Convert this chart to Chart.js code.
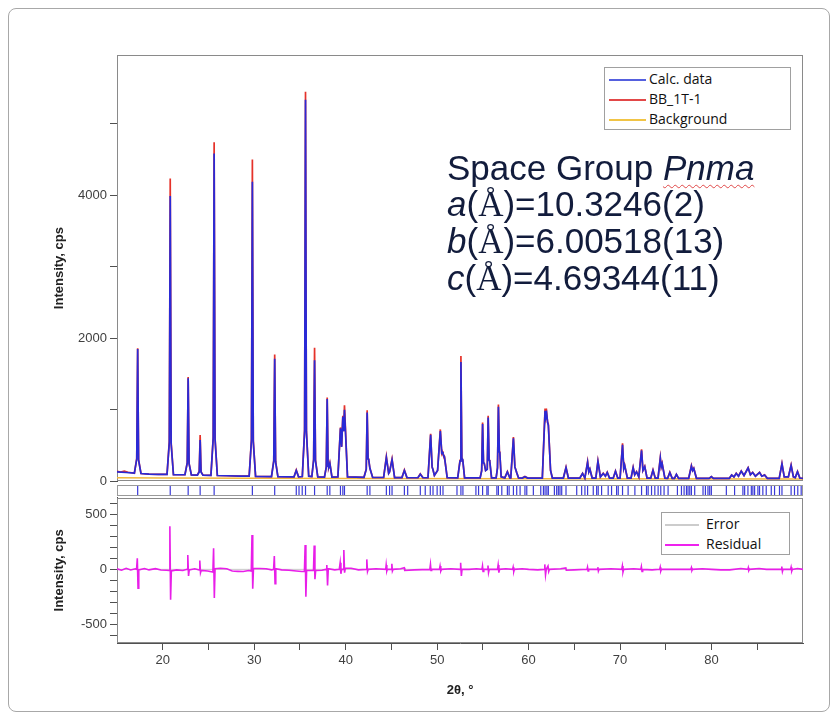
<!DOCTYPE html>
<html>
<head>
<meta charset="utf-8">
<script src="https://cdn.jsdelivr.net/npm/chart.js@4.4.1/dist/chart.umd.min.js"></script>
<style>
  body { margin: 0; width: 838px; height: 721px; background: #fff; overflow: hidden; position: relative; font-family: "Liberation Sans", Arial, sans-serif; }
  .frame { position: absolute; left: 8px; top: 8px; width: 820px; height: 702px; border: 1px solid #a8a8a8; border-radius: 8px; }
  canvas { position: absolute; left: 0; }
  #top { top: 40px; }
  #strip { top: 480px; }
  #bottom { top: 487px; }
  .legend { position: absolute; background: #fff; border: 1px solid #a0a0a0; font-family: "Open Sans", "Noto Sans", sans-serif; font-size: 14px; color: #111; }
  .legend .row { position: relative; height: 20px; line-height: 20px; }
  .legend .row i { position: absolute; top: 10px; height: 1.6px; }
  .legend .row span { position: absolute; white-space: nowrap; }
  .note { position: absolute; left: 447px; top: 150px; font-size: 35px; line-height: 36px; color: #121c3c; white-space: nowrap; }
  .note .aa { font-family: "Liberation Serif", serif; }
  .note .sq { text-decoration: underline wavy #e04848; text-decoration-thickness: 1px; text-underline-offset: 4px; }
</style>
</head>
<body>
<div class="frame"></div>
<canvas id="top" width="838" height="452"></canvas>
<canvas id="strip" width="838" height="22"></canvas>
<canvas id="bottom" width="838" height="215"></canvas>

<div class="legend" style="left:604px; top:67px; width:185px; height:60px; padding-top:1px;">
  <div class="row"><i style="left:4px; width:37px; background:#5560de;"></i><span style="left:44px;">Calc. data</span></div>
  <div class="row"><i style="left:4px; width:37px; background:#e24848;"></i><span style="left:44px;">BB_1T-1</span></div>
  <div class="row"><i style="left:4px; width:37px; background:#f1c445;"></i><span style="left:44px;">Background</span></div>
</div>
<div class="legend" style="left:661px; top:512px; width:127px; height:40px; padding-top:1px;">
  <div class="row"><i style="left:3px; width:34px; height:2.2px; background:#cccccc;"></i><span style="left:44px;">Error</span></div>
  <div class="row"><i style="left:3px; width:34px; background:#ee22ee;"></i><span style="left:44px;">Residual</span></div>
</div>

<div class="note">
  <div>Space Group <i class="sq">Pnma</i></div>
  <div><i>a</i>(<span class="aa">Å</span>)=10.3246(2)</div>
  <div><i>b</i>(<span class="aa">Å</span>)=6.00518(13)</div>
  <div><i>c</i>(<span class="aa">Å</span>)=4.69344(11)</div>
</div>

<script>
const xMin = 15;
const xMax = 90;
const xTicks = [20, 25, 30, 35, 40, 45, 50, 55, 60, 65, 70, 75, 80, 85];
const yTopTicks = [0, 1000, 2000, 3000, 4000, 5000];
const yResTicks = [-600, -500, -400, -300, -200, -100, 0, 100, 200, 300, 400, 500, 600];

// 2θ, intensity (cps)
const observed = [
  [15.0,138],[15.4,128],[15.8,140],[16.2,125],[16.6,118],[16.9,112],[17.16,320],[17.26,1860],[17.36,300],[17.62,108],
  [18.5,100],[19.5,96],[20.47,95],[20.72,560],[20.82,4234],[20.92,540],[21.17,92],
  [22.43,90],[22.68,260],[22.78,1458],[22.88,250],[23.13,88],[23.79,86],[23.99,140],[24.09,645],[24.19,135],[24.4,84],
  [25.27,82],[25.52,620],[25.62,4740],[25.72,600],[25.97,80],[27.0,76],[28.5,72],
  [29.45,70],[29.70,590],[29.80,4499],[29.90,570],[30.15,68],
  [31.89,65],[32.14,290],[32.24,1773],[32.34,280],[32.59,64],
  [34.35,60],[34.60,158],[34.85,62],[35.26,65],[35.51,720],[35.61,5446],[35.71,700],[35.96,70],
  [36.3,66],[36.50,310],[36.60,1866],[36.70,300],[36.95,60],
  [37.68,56],[37.88,200],[37.98,1170],[38.08,210],[38.15,200],[38.27,260],[38.5,58],
  [39.15,60],[39.43,752],[39.56,480],[39.69,915],[39.78,700],[39.87,1063],[40.2,60],
  [42.0,54],[42.25,170],[42.35,993],[42.45,320],[42.52,300],[42.65,180],[42.95,52],
  [44.15,52],[44.45,344],[44.7,110],[44.8,130],[45.07,311],[45.35,50],
  [46.15,50],[46.42,158],[46.7,50],[47.9,48],[48.16,102],[48.45,48],
  [49.0,48],[49.29,664],[49.45,200],[49.55,160],[49.7,80],[50.05,150],[50.35,724],[50.5,400],[50.55,420],[50.64,380],[50.8,348],[51.1,50],
  [52.25,48],[52.5,290],[52.6,1750],[52.7,330],[52.8,300],[53.0,46],
  [54.7,46],[54.87,150],[54.97,822],[55.07,260],[55.15,250],[55.3,150],[55.48,170],[55.58,915],[55.68,300],[55.75,280],[55.95,46],
  [56.45,46],[56.6,190],[56.70,1072],[56.8,420],[56.85,400],[57.0,60],[57.4,46],[57.68,135],[57.95,46],
  [58.05,46],[58.34,617],[58.5,200],[58.7,120],[58.9,46],[59.3,44],[59.6,65],[59.9,44],
  [61.5,44],[61.80,1017],[61.9,900],[61.98,950],[62.08,820],[62.16,798],[62.4,150],[62.6,44],
  [63.8,44],[64.09,195],[64.35,44],
  [65.6,44],[65.9,111],[66.15,44],[66.45,274],[66.58,130],[66.7,172],[66.95,44],
  [67.35,44],[67.58,283],[67.85,60],[68.16,111],[68.4,70],[68.6,125],[68.85,44],
  [69.25,42],[69.5,143],[69.75,42],[70.0,42],[70.27,530],[70.4,180],[70.5,227],[70.8,42],
  [71.2,42],[71.43,195],[71.6,90],[71.8,135],[72.05,60],[72.35,445],[72.5,150],[72.7,209],[72.95,42],
  [73.35,42],[73.6,157],[73.85,42],[74.15,42],[74.4,330],[74.5,200],[74.6,250],[74.9,42],
  [75.2,40],[75.44,125],[75.7,40],[75.95,40],[76.16,97],[76.4,40],
  [77.5,40],[77.8,218],[77.93,150],[78.06,181],[78.35,40],[79.75,40],[79.98,65],[80.2,40],
  [81.95,40],[82.2,88],[82.45,60],[82.7,111],[82.95,70],[83.25,143],[83.55,80],[84.0,190],[84.25,90],
  [84.5,125],[84.8,70],[85.25,125],[85.5,70],[85.8,88],[86.1,40],
  [87.4,40],[87.7,250],[87.95,60],[88.4,60],[88.7,227],[88.95,60],[89.15,50],[89.4,135],[89.65,45],[90.0,40]
];

const calculated = [
  [15.0,130],[16.0,122],[16.9,112],[17.16,310],[17.26,1850],[17.36,295],[17.62,108],
  [18.5,100],[19.5,96],[20.47,95],[20.72,540],[20.82,3988],[20.92,520],[21.17,92],
  [22.43,90],[22.68,255],[22.78,1440],[22.88,245],[23.13,88],[23.79,86],[23.99,130],[24.09,575],[24.19,125],[24.4,84],
  [25.27,82],[25.52,600],[25.62,4582],[25.72,585],[25.97,80],[27.0,76],[28.5,72],
  [29.45,70],[29.70,570],[29.80,4188],[29.90,550],[30.15,68],
  [31.89,65],[32.14,280],[32.24,1713],[32.34,270],[32.59,64],
  [34.35,60],[34.60,150],[34.85,62],[35.26,65],[35.51,700],[35.61,5334],[35.71,690],[35.96,70],
  [36.3,66],[36.50,295],[36.60,1690],[36.70,285],[36.95,60],
  [37.68,56],[37.88,195],[37.98,1150],[38.08,205],[38.15,200],[38.27,250],[38.5,58],
  [39.15,60],[39.43,740],[39.56,480],[39.69,900],[39.78,700],[39.87,1000],[40.2,60],
  [42.0,54],[42.25,165],[42.35,960],[42.45,310],[42.52,300],[42.65,180],[42.95,52],
  [44.15,52],[44.45,330],[44.7,110],[44.8,130],[45.07,300],[45.35,50],
  [46.15,50],[46.42,150],[46.7,50],[47.9,48],[48.16,98],[48.45,48],
  [49.0,48],[49.29,650],[49.45,200],[49.55,160],[49.7,80],[50.05,150],[50.35,700],[50.5,400],[50.55,410],[50.64,380],[50.8,340],[51.1,50],
  [52.25,48],[52.5,280],[52.6,1667],[52.7,320],[52.8,300],[53.0,46],
  [54.7,46],[54.87,145],[54.97,800],[55.07,255],[55.15,250],[55.3,150],[55.48,165],[55.58,890],[55.68,295],[55.75,280],[55.95,46],
  [56.45,46],[56.6,185],[56.70,1040],[56.8,410],[56.85,400],[57.0,60],[57.4,46],[57.68,130],[57.95,46],
  [58.05,46],[58.34,600],[58.5,200],[58.7,120],[58.9,46],[59.3,44],[59.6,62],[59.9,44],
  [61.5,44],[61.80,985],[61.9,900],[61.98,940],[62.08,820],[62.16,780],[62.4,150],[62.6,44],
  [63.8,44],[64.09,190],[64.35,44],
  [65.6,44],[65.9,108],[66.15,44],[66.45,265],[66.58,130],[66.7,168],[66.95,44],
  [67.35,44],[67.58,275],[67.85,60],[68.16,108],[68.4,70],[68.6,120],[68.85,44],
  [69.25,42],[69.5,140],[69.75,42],[70.0,42],[70.27,510],[70.4,180],[70.5,222],[70.8,42],
  [71.2,42],[71.43,190],[71.6,90],[71.8,130],[72.05,60],[72.35,430],[72.5,150],[72.7,204],[72.95,42],
  [73.35,42],[73.6,152],[73.85,42],[74.15,42],[74.4,320],[74.5,200],[74.6,245],[74.9,42],
  [75.2,40],[75.44,122],[75.7,40],[75.95,40],[76.16,95],[76.4,40],
  [77.5,40],[77.8,212],[77.93,150],[78.06,178],[78.35,40],[79.75,40],[79.98,63],[80.2,40],
  [81.95,40],[82.2,86],[82.45,60],[82.7,108],[82.95,70],[83.25,140],[83.55,80],[84.0,185],[84.25,90],
  [84.5,122],[84.8,70],[85.25,122],[85.5,70],[85.8,86],[86.1,40],
  [87.4,40],[87.7,242],[87.95,60],[88.4,60],[88.7,220],[88.95,60],[89.15,50],[89.4,132],[89.65,45],[90.0,40]
];

const background = [[15,48],[20,45],[30,40],[40,37],[60,34],[90,30]];

const reflections = [
  17.26, 20.82, 22.78, 24.09, 25.62, 29.80, 32.24, 34.60, 34.90, 35.25, 35.61, 36.60, 37.98, 38.27,
  39.43, 39.69, 39.87, 42.35, 42.65, 44.45, 44.80, 45.07, 46.42, 46.78, 48.16, 48.70, 49.25, 49.55,
  50.00, 50.35, 50.64, 52.17, 52.60, 52.82, 54.24, 54.53, 54.97, 55.44, 55.58, 56.53, 56.70, 57.07,
  57.68, 57.87, 58.34, 58.70, 59.07, 59.60, 59.80, 60.52, 61.33, 61.62, 61.80, 62.00, 62.16, 62.82,
  63.07, 63.25, 63.43, 63.62, 64.09, 65.26, 65.80, 66.16, 66.45, 67.07, 67.44, 67.61, 67.98, 68.70,
  69.07, 69.62, 69.80, 70.27, 70.88, 71.62, 72.35, 72.89, 73.07, 73.44, 73.80, 74.16, 74.45, 74.81,
  75.25, 76.27, 76.71, 77.00, 77.26, 77.43, 77.62, 77.80, 78.16, 79.07, 79.33, 79.61, 79.80, 79.98,
  81.62, 82.52, 83.43, 83.62, 83.98, 84.35, 84.52, 84.71, 85.07, 85.25, 85.61, 85.98, 86.53, 86.89,
  87.43, 87.70, 88.70, 89.07, 89.43, 89.80
];

const residual = [
  [15,5],[15.5,-8],[16,10],[16.5,-5],[17.0,5],[17.14,0],[17.22,100],[17.3,-170],[17.38,-5],
  [18.0,8],[18.5,-5],[19.2,6],[19.8,-6],[20.4,-8],[20.7,-10],[20.78,390],[20.86,-275],[20.94,-15],
  [21.5,-5],[22.2,-10],[22.66,0],[22.74,130],[22.82,-60],[22.9,-5],[23.5,5],
  [23.98,-5],[24.05,80],[24.13,-30],[24.2,-10],[24.9,-15],[25.48,-25],[25.56,190],[25.64,-260],[25.72,5],
  [26.3,10],[27.0,5],[27.6,-15],[28.2,-18],[28.8,-20],[29.4,-10],[29.68,-15],[29.76,310],[29.84,-175],[29.92,10],
  [30.6,8],[31.3,5],[31.9,-5],[32.12,0],[32.2,120],[32.28,-130],[32.36,5],
  [33.0,-5],[33.8,-8],[34.6,-15],[35.2,-20],[35.49,-20],[35.57,220],[35.65,-248],[35.73,-10],
  [36.48,-10],[36.56,215],[36.64,-90],[36.72,-10],[37.4,-8],[37.86,0],[37.94,40],[38.02,-145],[38.1,5],
  [38.8,-5],[39.3,0],[39.4,60],[39.48,-40],[39.56,0],[39.72,0],[39.8,175],[39.88,-30],[39.96,10],
  [40.6,10],[41.4,-5],[42.23,0],[42.31,90],[42.39,-20],[42.47,0],
  [43.3,5],[44.38,0],[44.43,40],[44.5,-15],[44.56,0],[45.0,0],[45.05,50],[45.11,-15],[45.18,0],
  [46.0,5],[46.4,15],[46.46,-10],[47.5,-5],[49.2,0],[49.27,45],[49.33,-10],[49.4,0],
  [50.25,0],[50.32,30],[50.4,-15],[50.48,0],[51.5,5],[52.5,0],[52.57,60],[52.65,-60],[52.72,0],[53.5,0],[54.3,5],
  [54.9,0],[54.96,30],[55.02,-20],[55.1,0],[55.5,0],[55.56,35],[55.62,-30],[55.7,0],
  [56.6,0],[56.67,40],[56.75,-30],[56.82,0],[57.5,5],[58.25,0],[58.31,20],[58.38,-20],[58.45,0],
  [59.3,5],[60.0,0],[61.0,-5],[61.7,0],[61.77,45],[61.85,-50],[61.93,0],[62.12,30],[62.2,-20],[62.28,0],
  [63.5,5],[64.07,12],[64.12,-8],[65.0,-5],[66.38,0],[66.44,20],[66.5,-15],[66.56,0],
  [67.52,0],[67.57,20],[67.63,-15],[67.7,0],[69.0,5],[70.18,0],[70.25,30],[70.32,-25],[70.4,0],[71.5,5],
  [72.27,0],[72.33,25],[72.4,-20],[72.47,0],[73.5,-5],[74.33,0],[74.39,20],[74.45,-15],[74.52,0],
  [76.0,0],[77.74,0],[77.8,15],[77.86,-10],[77.92,0],[79.0,5],[80.0,0],[81.0,-5],[82.0,-5],[83.2,8],
  [83.97,0],[84.02,15],[84.08,-10],[84.15,0],[85.2,8],[86.0,0],[87.6,0],[87.68,25],[87.75,-20],[87.82,0],
  [88.64,0],[88.7,20],[88.77,-15],[88.84,0],[89.4,8],[90,0]
];

const error = [[15,0],[90,0]];

const axisColor = "#505050";
const tickFont = { family: "'Liberation Sans', Arial, sans-serif", size: 13 };
const titleFont = { family: "'Liberation Sans', Arial, sans-serif", size: 13, weight: "bold" };

const frame = {
  id: "frame",
  beforeDatasetsDraw(chart, args, opts) {
    const { left, top, right, bottom } = chart.chartArea;
    const ctx = chart.ctx;
    ctx.save();
    ctx.strokeStyle = opts.color || "#8a8a8a";
    ctx.lineWidth = 1;
    ctx.strokeRect(Math.round(left) + 0.5, Math.round(top) + 0.5, Math.round(right - left) - 1, Math.round(bottom - top) - 1);
    ctx.restore();
  },
};

function fixedTicks(values) {
  return function (scale) {
    scale.ticks = values.map((v) => ({ value: v }));
  };
}

function yAxis(min, max, ticks, labelled) {
  return {
    type: "linear",
    min: min,
    max: max,
    afterBuildTicks: fixedTicks(ticks),
    afterFit: (s) => { s.width = 69; },
    border: { color: axisColor },
    grid: { drawOnChartArea: false, color: axisColor, tickLength: 7 },
    ticks: {
      autoSkip: false,
      color: "#404040",
      font: tickFont,
      callback: (v) => (labelled.includes(v) ? String(v) : ""),
    },
    title: { display: true, text: "Intensity, cps", color: "#222", font: titleFont },
  };
}

const common = {
  responsive: false,
  animation: false,
  events: [],
  plugins: { legend: { display: false }, tooltip: { enabled: false } },
  elements: { point: { radius: 0 }, line: { tension: 0 } },
};

new Chart(document.getElementById("top"), {
  type: "line",
  data: {
    datasets: [
      { label: "Calc. data", data: calculated, borderColor: "#2a2ad6", borderWidth: 1.7 },
      { label: "BB_1T-1", data: observed, borderColor: "#e5322a", borderWidth: 1.7 },
      { label: "Background", data: background, borderColor: "#f2b83a", borderWidth: 1.5 },
    ],
  },
  options: {
    ...common,
    layout: { autoPadding: false, padding: { left: 48, right: 35, top: 15, bottom: 9 } },
    scales: {
      x: { type: "linear", min: xMin, max: xMax, display: false },
      y: yAxis(0, 5960, yTopTicks, [0, 2000, 4000]),
    },
    plugins: { ...common.plugins, frame: { color: "#8a8a8a" } },
  },
  plugins: [frame],
});

new Chart(document.getElementById("strip"), {
  type: "scatter",
  data: {
    datasets: [
      {
        label: "Reflections",
        data: reflections.map((t) => [t, 0.5]),
        pointStyle: "line",
        rotation: 90,
        pointRadius: 4.5,
        borderColor: "#3a3ad8",
        borderWidth: 1.2,
      },
    ],
  },
  options: {
    ...common,
    elements: {},
    layout: { autoPadding: false, padding: { left: 117, right: 35, top: 5, bottom: 6 } },
    scales: {
      x: { type: "linear", min: xMin, max: xMax, display: false },
      y: { type: "linear", min: 0, max: 1, display: false },
    },
    plugins: { ...common.plugins, frame: { color: "#9a9a9a" } },
  },
  plugins: [frame],
});

new Chart(document.getElementById("bottom"), {
  type: "line",
  data: {
    datasets: [
      { label: "Residual", data: residual, borderColor: "#e81ee8", borderWidth: 1.6 },
      { label: "Error", data: error, borderColor: "#c8c8c8", borderWidth: 1 },
    ],
  },
  options: {
    ...common,
    layout: { autoPadding: false, padding: { left: 48, right: 35, top: 10, bottom: 0 } },
    scales: {
      x: {
        type: "linear",
        min: xMin,
        max: xMax,
        afterBuildTicks: fixedTicks(xTicks),
        afterFit: (s) => { s.height = 59; },
        border: { color: axisColor },
        grid: { drawOnChartArea: false, color: axisColor, tickLength: 7 },
        ticks: {
          autoSkip: false,
          maxRotation: 0,
          color: "#404040",
          font: tickFont,
          callback: (v) => (v % 10 === 0 ? String(v) : ""),
        },
        title: { display: true, text: "2θ, °", color: "#222", font: titleFont },
      },
      y: yAxis(-667, 648, yResTicks, [-500, 0, 500]),
    },
    plugins: { ...common.plugins, frame: { color: "#8a8a8a" } },
  },
  plugins: [frame],
});
</script>
</body>
</html>
